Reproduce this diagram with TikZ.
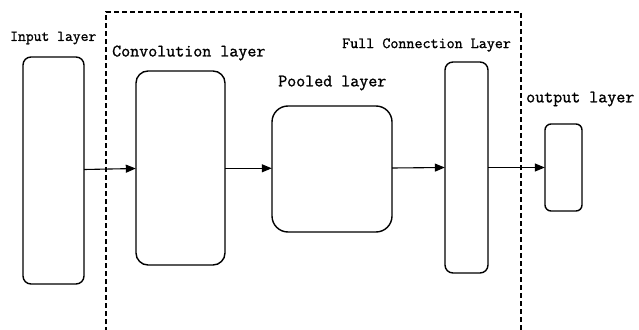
\documentclass[tikz,border=0pt]{standalone}
\usepackage{fontspec}
\newfontfamily\lblfont[FakeBold=1.2]{Latin Modern Mono}
\usetikzlibrary{arrows.meta}
\begin{document}
\begin{tikzpicture}[x=1pt,y=-1pt,
  layerbox/.style={draw=black,line width=1.4pt,fill=white},
  conn/.style={line width=1.1pt,-{Triangle[length=10pt,width=8pt]}},
  lbl/.style={font=\lblfont\fontsize{#1}{#1}\selectfont,inner sep=0pt,anchor=west},
]
\useasboundingbox (0,0) rectangle (639,329);
\draw[line width=1.2pt,dash pattern=on 5pt off 3pt] (106,340) -- (106,12) -- (521,12) -- (521,340);
\draw[layerbox,rounded corners=8pt] (23,57) rectangle (84,284);
\node (in) at (53.5,170.5) [minimum width=61pt,minimum height=227pt,inner sep=0pt] {};
\draw[layerbox,rounded corners=12pt] (136,71) rectangle (225,265);
\node (cv) at (180.5,168) [minimum width=89pt,minimum height=194pt,inner sep=0pt] {};
\draw[layerbox,rounded corners=16pt] (272,106) rectangle (392,232);
\node (pl) at (332,169) [minimum width=120pt,minimum height=126pt,inner sep=0pt] {};
\draw[layerbox,rounded corners=8pt] (445,62) rectangle (488,273);
\node (fc) at (466.5,167.5) [minimum width=43pt,minimum height=211pt,inner sep=0pt] {};
\draw[layerbox,rounded corners=6pt] (545,124) rectangle (582,211);
\node (out) at (563.5,167.5) [minimum width=37pt,minimum height=87pt,inner sep=0pt] {};
\draw[conn] (in.east |- 0,169.5) -- (cv.west |- 0,168.5);
\draw[conn] (cv.east |- 0,168.3) -- (pl.west |- 0,168.3);
\draw[conn] (pl.east |- 0,168) -- (fc.west |- 0,167.5);
\draw[conn] (fc.east |- 0,167.5) -- (out.west |- 0,167.5);
\node[lbl=15.2] (t1) at (10,38) {Input layer};
\node[lbl=17.5] (t2) at (112,53) {Convolution layer};
\node[lbl=17.5] (t3) at (278,83) {Pooled layer};
\node[lbl=15.6] (t4) at (342,45) {Full Connection Layer};
\node[lbl=17.5] (t5) at (526,99) {output layer};
\end{tikzpicture}
\end{document}
